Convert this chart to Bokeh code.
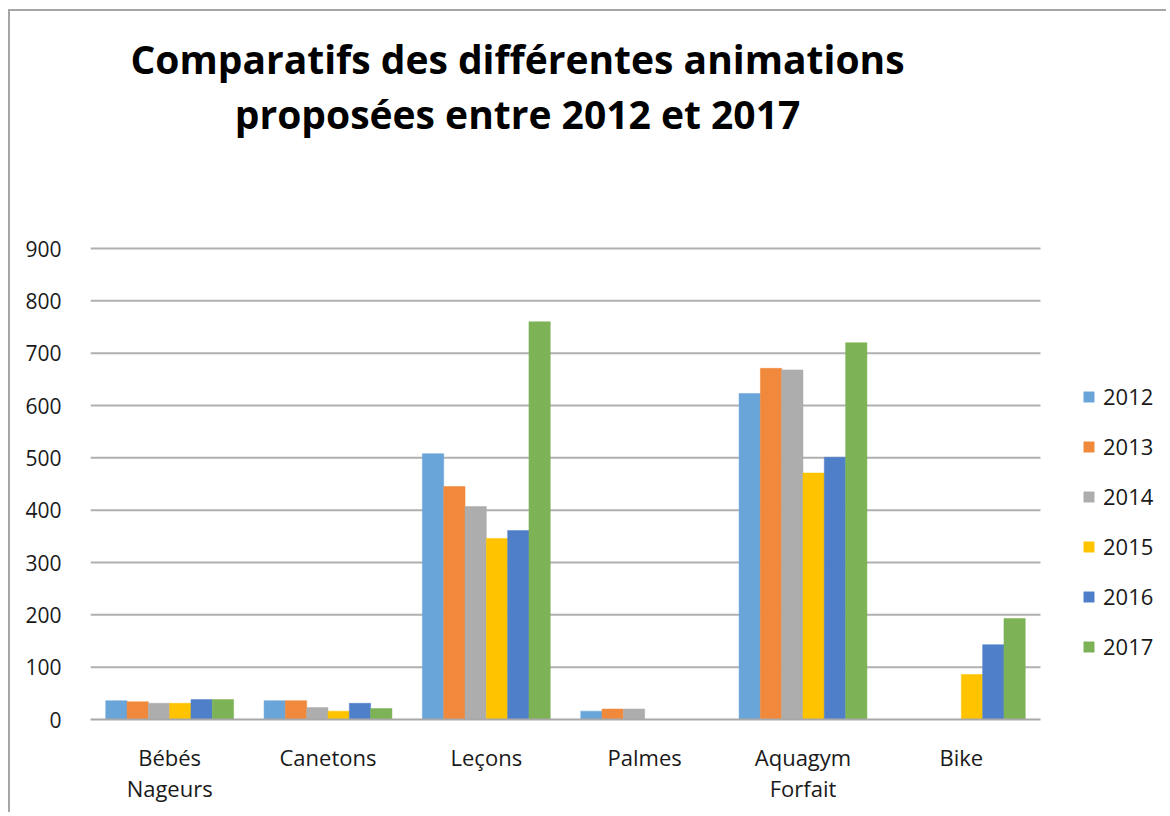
from bokeh.plotting import figure
from bokeh.models import (ColumnDataSource, Range1d, Legend, LegendItem, Label, FixedTicker)
from bokeh.transform import dodge
from bokeh.embed import file_html
from bokeh.resources import INLINE

categories = ["Bébés\nNageurs", "Canetons", "Leçons", "Palmes", "Aquagym\nForfait", "Bike"]
years = ["2012", "2013", "2014", "2015", "2016", "2017"]
v2012 = [36, 36, 508, 16, 623, 0]
v2013 = [34, 36, 445, 20, 671, 0]
v2014 = [31, 23, 407, 20, 668, 0]
v2015 = [31, 16, 346, 0, 471, 86]
v2016 = [38, 31, 361, 0, 501, 143]
v2017 = [38, 21, 760, 0, 720, 193]
y_ticks = [0, 100, 200, 300, 400, 500, 600, 700, 800, 900]
colors = ["#6AA5DA", "#F0893B", "#ADADAD", "#FFC300", "#4F7FC9", "#7DB356"]
title_lines = ["Comparatifs des différentes animations", "proposées entre 2012 et 2017"]

FONT = "Open Sans"
N = len(categories)
series = [v2012, v2013, v2014, v2015, v2016, v2017]
centers = [i + 0.5 for i in range(N)]
data = {"xc": centers}
for y, s in zip(years, series):
    data[y] = s
source = ColumnDataSource(data)

# layout geometry (pixels)
W, H = 1158, 803
ML, MB = 80, 95
frame_w, frame_h = W - ML, H - MB
plot_w, plot_h = 950, 471          # width of category area, height of 0..900 area
x_end = N * frame_w / plot_w
y_end = y_ticks[-1] * frame_h / plot_h

p = figure(x_range=Range1d(0, x_end), y_range=Range1d(0, y_end),
           width=W, height=H, output_backend="svg", toolbar_location=None,
           min_border_left=ML, min_border_right=0, min_border_top=0, min_border_bottom=MB)
p.outline_line_color = None
p.background_fill_color = "white"
p.border_fill_color = "white"
p.styles = {"margin-left": "8px", "margin-top": "9px",
            "border-left": "2px solid #A6A6A6", "border-top": "2px solid #A6A6A6"}
p.xgrid.grid_line_color = None
p.ygrid.grid_line_color = None

# horizontal gridlines across the category area only
grid_y = y_ticks[1:]
p.segment(x0=[0] * len(grid_y), x1=[N] * len(grid_y), y0=grid_y, y1=grid_y,
          line_color="#B0B0B0", line_width=2, level="underlay")

bw = 0.1346
renderers = []
for i, (y, c) in enumerate(zip(years, colors)):
    r = p.vbar(x=dodge("xc", (i - 2.5) * bw), top=y, width=bw,
               source=source, fill_color=c, line_color=c, line_width=0.5)
    renderers.append(r)

# y axis
p.yaxis.ticker = FixedTicker(ticks=y_ticks)
p.yaxis.axis_line_color = None
p.yaxis.major_tick_line_color = None
p.yaxis.minor_tick_line_color = None
p.yaxis.major_label_standoff = 23
p.yaxis.major_label_text_font = FONT
p.yaxis.major_label_text_font_size = "21px"
p.yaxis.major_label_text_color = "#1a1a1a"

# x axis with category labels
p.xaxis.ticker = FixedTicker(ticks=centers)
p.xaxis.major_label_overrides = {c: lab for c, lab in zip(centers, categories)}
p.xaxis.bounds = (0, N)
p.xaxis.axis_line_color = "#A8A8A8"
p.xaxis.axis_line_width = 2
p.xaxis.major_tick_line_color = None
p.xaxis.minor_tick_line_color = None
p.xaxis.major_label_standoff = 16
p.xaxis.major_label_text_font = FONT
p.xaxis.major_label_text_font_size = "22px"
p.xaxis.major_label_text_color = "#1a1a1a"
p.xaxis.major_label_text_line_height = 1.05

# legend
items = [LegendItem(label=y, renderers=[r]) for y, r in zip(years, renderers)]
legend = Legend(items=items, location=(992, 58), orientation="vertical",
                glyph_width=13, glyph_height=13, label_height=24, spacing=20,
                label_standoff=8, padding=0, margin=0,
                label_text_font=FONT, label_text_font_size="22px", label_text_color="#1a1a1a",
                border_line_color=None, background_fill_alpha=0)
p.add_layout(legend, "center")

# title
for txt, ty in zip(title_lines, [661, 606]):
    p.add_layout(Label(x=427, y=ty, x_units="screen", y_units="screen", text=txt,
                       text_align="center", text_baseline="alphabetic", text_font=FONT,
                       text_font_style="bold", text_font_size="39px", text_color="#000000"))

open("out.html", "w").write(file_html(p, INLINE))
